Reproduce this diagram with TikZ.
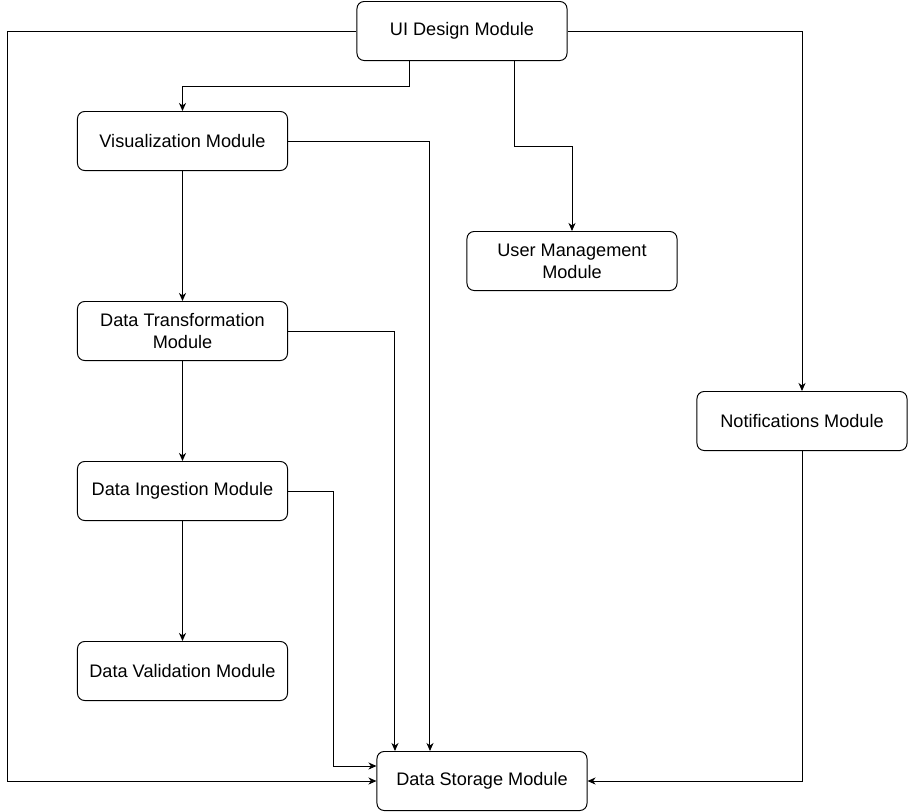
\documentclass[tikz,border=0pt]{standalone}
\usepackage{fontspec}
\setmainfont{Liberation Sans}
\usetikzlibrary{arrows.meta, positioning}

\begin{document}
\begin{tikzpicture}[
        x=0.025cm, y=-0.025cm,
        module/.style={draw, rounded corners=0.18cm, line width=0.7pt, minimum width=5.25cm, minimum height=1.475cm, align=center, font=\fontsize{12.9pt}{15.8pt}\selectfont},
        flow/.style={-{Stealth[length=2mm, width=1.75mm, inset=0.6mm]}, line width=0.7pt}
    ]
    \useasboundingbox (0,0) rectangle (908,811);

    % modules
    \node[module] (ui) at (462,31) {UI Design Module};
    \node[module] (vis) at (182.5,141) {Visualization Module};
    \node[module] (usr) at (572,261) {User Management\\Module};
    \node[module] (trans) at (182.5,331) {Data Transformation\\Module};
    \node[module] (notif) at (802,421) {Notifications Module};
    \node[module] (ingest) at (182.5,491) {Data Ingestion Module};
    \node[module] (valid) at (182.5,671) {Data Validation Module};
    \node[module] (store) at (482,781) {Data Storage Module};

    % from the UI module
    \draw[flow] (ui.west) -- ++(-349,0) |- (store.west);
    \draw[flow] ([xshift=-1.3cm]ui.south) -- ++(0,25) -| (vis.north);
    \draw[flow] ([xshift=1.3cm]ui.south) -- ++(0,85) -| (usr.north);
    \draw[flow] (ui.east) -| (notif.north);

    % pipeline column
    \draw[flow] (vis) -- (trans);
    \draw[flow] (trans) -- (ingest);
    \draw[flow] (ingest) -- (valid);

    % into storage
    \draw[flow] (vis.east) -| ([xshift=-1.3cm]store.north);
    \draw[flow] (trans.east) -| ([xshift=-2.175cm]store.north);
    \draw[flow] (ingest.east) -- ++(45,0) |- ([yshift=0.375cm]store.west);
    \draw[flow] (notif.south) |- (store.east);

\end{tikzpicture}
\end{document}
